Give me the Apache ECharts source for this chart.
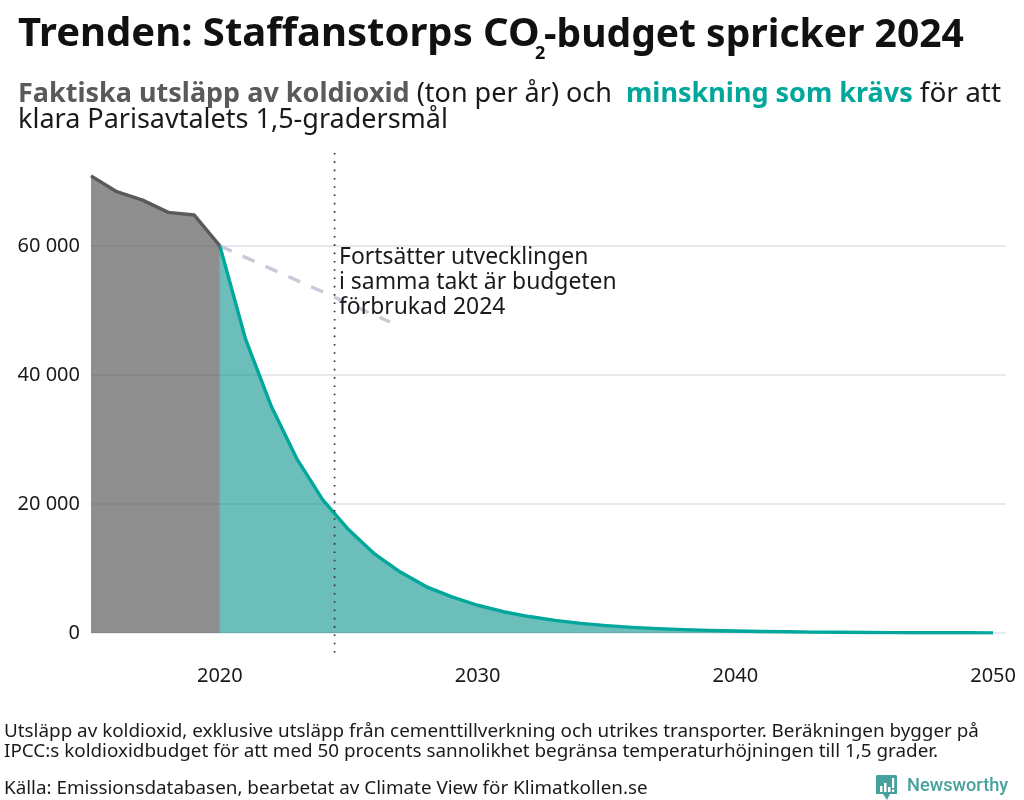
<!DOCTYPE html>
<html>
<head>
<meta charset="utf-8">
<style>
  html, body { margin: 0; padding: 0; background: #fff; }
  #chart { width: 1024px; height: 800px; }
</style>
<script src="https://cdn.jsdelivr.net/npm/echarts@6/dist/echarts.min.js"></script>
</head>
<body>
<div id="chart"></div>
<script>
const actualYears = [2015, 2016, 2017, 2018, 2019, 2020];
const actualValues = [70850, 68400, 67100, 65200, 64800, 60000];
const requiredYears = [2020, 2021, 2022, 2023, 2024, 2025, 2026, 2027, 2028, 2029, 2030, 2031, 2032, 2033, 2034, 2035,
  2036, 2037, 2038, 2039, 2040, 2041, 2042, 2043, 2044, 2045, 2046, 2047, 2048, 2049, 2050];
const requiredValues = [60000, 45500, 35100, 26900, 20600, 16000, 12250, 9450, 7200, 5600, 4300, 3300, 2550, 1950, 1500, 1150,
  880, 680, 520, 400, 310, 240, 185, 140, 110, 85, 65, 50, 38, 30, 20];
const trendYears = [2020, 2026.6];
const trendValues = [60000, 48200];
const budgetYear = 2024.45;
const labelYears = [2020, 2030, 2040, 2050];

const FONT = '"Noto Sans", "Open Sans", sans-serif';
const GREY = '#5a5a5a';
const TEAL = '#00a79a';
const INK = '#1a1a1a';

const zip = (xs, ys) => xs.map((x, i) => [x, ys[i]]);

const chart = echarts.init(document.getElementById('chart'), null, { renderer: 'canvas' });
chart.setOption({
  animation: false,
  backgroundColor: '#fff',
  textStyle: { fontFamily: FONT },
  title: [
    {
      text: 'Trenden: Staffanstorps CO',
      left: 13, top: 10,
      textStyle: { fontFamily: FONT, fontSize: 40, fontWeight: 700, color: '#111' }
    },
    {
      text: '2',
      left: 530, top: 40,
      textStyle: { fontFamily: FONT, fontSize: 18, fontWeight: 700, color: '#111' }
    },
    {
      text: '-budget spricker 2024',
      left: 539, top: 11,
      textStyle: { fontFamily: FONT, fontSize: 39, fontWeight: 700, color: '#111' }
    },
    {
      text: '{g|Faktiska utsläpp av koldioxid }{n|(ton per år) och  }{t|minskning som krävs }{w|för att}\n{n|klara Parisavtalets 1,5-gradersmål}',
      left: 13, top: 76,
      textStyle: {
        fontFamily: FONT,
        fontWeight: 'normal',
        lineHeight: 26,
        rich: {
          g: { fontFamily: FONT, fontSize: 27, fontWeight: 700, color: GREY, lineHeight: 26 },
          t: { fontFamily: FONT, fontSize: 27, fontWeight: 700, color: TEAL, lineHeight: 26 },
          n: { fontFamily: FONT, fontSize: 27, fontWeight: 400, color: INK, lineHeight: 26 },
          w: { fontFamily: FONT, fontSize: 28, fontWeight: 400, color: INK, lineHeight: 26 }
        }
      }
    }
  ],
  grid: { left: 91, right: 18, top: 153, bottom: 167, containLabel: false },
  xAxis: {
    type: 'value',
    min: 2015,
    max: 2050.5,
    interval: 5,
    axisLine: { show: false },
    axisTick: { show: false },
    splitLine: { show: false },
    axisLabel: {
      margin: 33,
      fontFamily: FONT,
      fontSize: 20,
      color: INK,
      hideOverlap: false,
      formatter: v => (labelYears.includes(v) ? String(v) : '')
    }
  },
  yAxis: {
    type: 'value',
    min: 0,
    max: 74400,
    interval: 20000,
    axisLine: { show: false },
    axisTick: { show: false },
    splitLine: { show: true, showMaxLine: false, lineStyle: { color: '#e8e8ee', width: 2 } },
    axisLabel: {
      margin: 11,
      fontFamily: FONT,
      fontSize: 20,
      color: INK,
      showMaxLabel: false,
      padding: [6, 0, 0, 0],
      formatter: v => String(v).replace(/\B(?=(\d{3})+$)/g, ' ')
    }
  },
  series: [
    {
      name: 'Minskning som krävs',
      type: 'line',
      data: zip(requiredYears, requiredValues),
      symbol: 'none',
      z: 3,
      lineStyle: { color: TEAL, width: 3.4, join: 'round' },
      areaStyle: { color: '#008f86', opacity: 0.58 }
    },
    {
      name: 'Faktiska utsläpp',
      type: 'line',
      data: zip(actualYears, actualValues),
      symbol: 'none',
      z: 4,
      lineStyle: { color: GREY, width: 3.4, join: 'round' },
      areaStyle: { color: '#555555', opacity: 0.66 }
    },
    {
      name: 'Trend',
      type: 'line',
      data: zip(trendYears, trendValues),
      symbol: 'none',
      z: 2,
      lineStyle: { color: '#c9c9d8', width: 3.4, type: [13, 12] }
    },
    {
      name: 'Budget förbrukad',
      type: 'line',
      data: [[budgetYear, 74400], [budgetYear, -3400]],
      symbol: 'none',
      clip: false,
      z: 5,
      lineStyle: { color: '#333', width: 1.7, type: [1.6, 6.7] }
    }
  ],
  graphic: [
    {
      type: 'text',
      left: 339, top: 245, z: 10,
      style: {
        text: 'Fortsätter utvecklingen\ni samma takt är budgeten\nförbrukad 2024',
        font: '22.9px ' + FONT,
        lineHeight: 25,
        fill: INK
      }
    },
    {
      type: 'text',
      left: 4, top: 722,
      style: {
        text: 'Utsläpp av koldioxid, exklusive utsläpp från cementtillverkning och utrikes transporter. Beräkningen bygger på\nIPCC:s koldioxidbudget för att med 50 procents sannolikhet begränsa temperaturhöjningen till 1,5 grader.',
        font: '18.85px ' + FONT,
        lineHeight: 20,
        fill: INK
      }
    },
    {
      type: 'text',
      left: 4, top: 779,
      style: {
        text: 'Källa: Emissionsdatabasen, bearbetat av Climate View för Klimatkollen.se',
        font: '18.85px ' + FONT,
        fill: INK
      }
    },
    {
      type: 'group',
      left: 876, top: 775,
      children: [
        {
          type: 'polygon',
          shape: { points: [[1, 0], [20, 0], [21, 1], [21, 19], [14, 19], [11, 25], [7, 19], [0, 19], [0, 1]] },
          style: { fill: '#47a19c' }
        },
        { type: 'rect', shape: { x: 4, y: 11, width: 2.5, height: 6 }, style: { fill: '#fff' } },
        { type: 'rect', shape: { x: 8, y: 8, width: 2.5, height: 9 }, style: { fill: '#fff' } },
        { type: 'rect', shape: { x: 12, y: 12, width: 2.5, height: 5 }, style: { fill: '#fff' } },
        { type: 'rect', shape: { x: 16, y: 3, width: 2.2, height: 10 }, style: { fill: '#fff' } },
        { type: 'rect', shape: { x: 16, y: 14.5, width: 2.2, height: 2.5 }, style: { fill: '#fff' } }
      ]
    },
    {
      type: 'text',
      left: 907, top: 777,
      style: {
        text: 'Newsworthy',
        font: '500 18.2px Roboto, sans-serif',
        fill: '#47a19c'
      }
    }
  ]
});

window.addEventListener('resize', () => chart.resize());
</script>
</body>
</html>
